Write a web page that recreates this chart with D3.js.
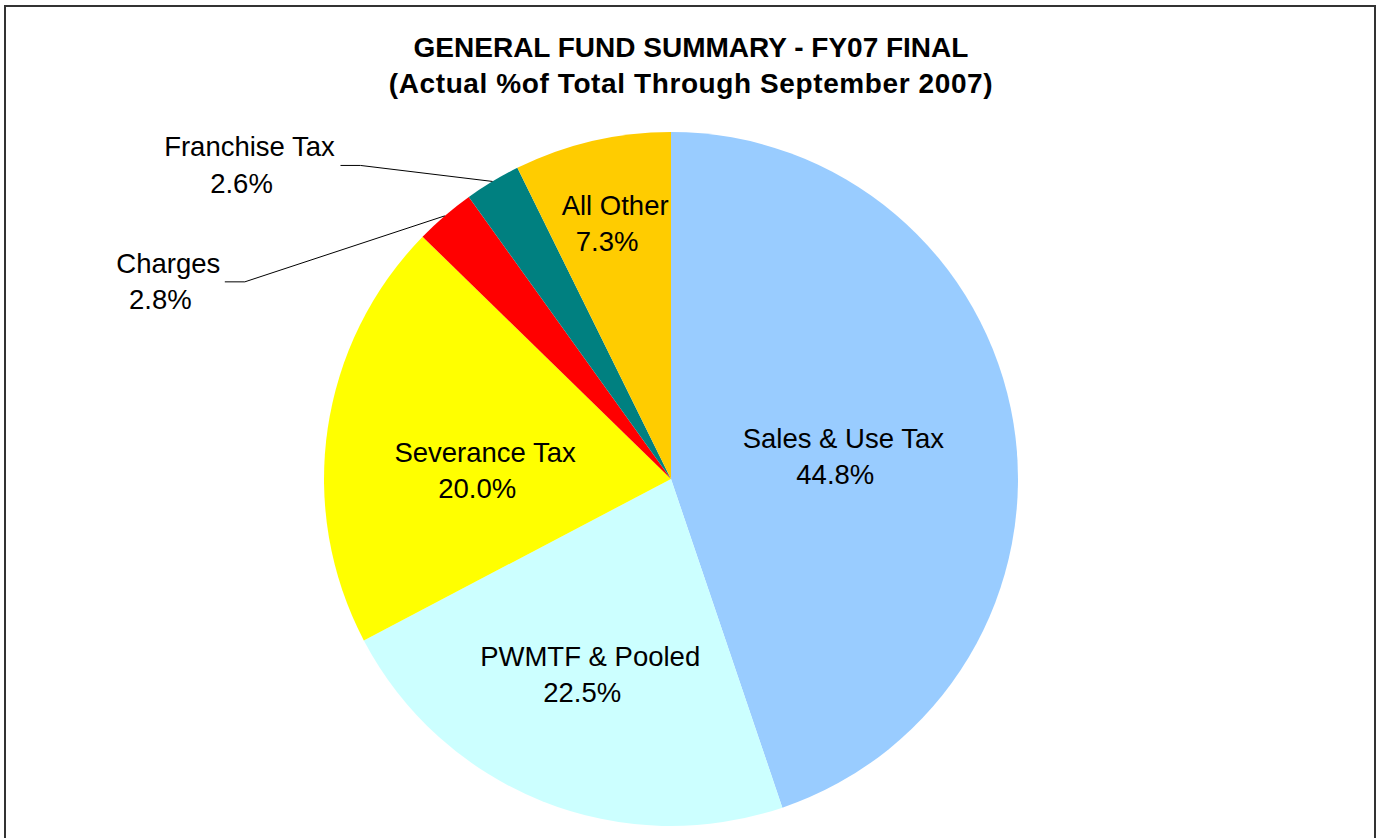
<!DOCTYPE html>
<html>
<head>
<meta charset="utf-8">
<script src="https://cdn.jsdelivr.net/npm/d3@7"></script>
<style>
  html, body { margin: 0; padding: 0; background: #fff; }
  svg { display: block; }
  text { font-family: "Liberation Sans", Arial, sans-serif; fill: #000; }
</style>
</head>
<body>
<svg id="chart" width="1380" height="838"></svg>
<script>
// General fund revenue shares, FY07 final (percent of total)
const categories = ["Sales & Use Tax", "PWMTF & Pooled", "Severance Tax", "Charges", "Franchise Tax", "All Other"];
const shares = [44.8, 22.5, 20.0, 2.8, 2.6, 7.3];
const sliceColors = ["#99CCFF", "#CCFFFF", "#FFFF00", "#FF0000", "#008080", "#FFCC00"];
const titleLines = ["GENERAL FUND SUMMARY - FY07 FINAL", "(Actual %of Total Through September 2007)"];

// Layout
const W = 1380, H = 838;
const cx = 671, cy = 479, R = 347;
const fontSize = 27.5, lineGap = 36.5;

// Label placement: inside labels sit near a point on the mid-angle ray,
// outside labels hang off a leader line drawn from the slice edge.
const labelLayout = [
  { inside: true,  k: 0.55, dx: -16, dy: 18 },
  { inside: true,  k: 0.55, dx: -10, dy: 28 },
  { inside: true,  k: 0.55, dx: 3,   dy: 28.5 },
  { inside: false, elbow: [-200, 66], text: [-76.5, -9] },
  { inside: false, elbow: [-132, -16], text: [-111, -9] },
  { inside: true,  k: 0.55, dx: -12.5, dy: -60 }
];

const data = categories.map((c, i) => ({ name: c, value: shares[i], color: sliceColors[i], layout: labelLayout[i] }));

const svg = d3.select("#chart");

// Chart frame
svg.append("rect")
  .attr("x", 5).attr("y", 6)
  .attr("width", 1370).attr("height", 900)
  .attr("fill", "#fff")
  .attr("stroke", "#333").attr("stroke-width", 2);

// Title
svg.append("g").selectAll("text")
  .data(titleLines)
  .join("text")
  .attr("x", 691)
  .attr("y", (d, i) => 57 + i * 35.5)
  .attr("text-anchor", "middle")
  .attr("font-weight", "bold")
  .attr("font-size", 28)
  .attr("letter-spacing", (d, i) => i === 1 ? 0.6 : 0)
  .text(d => d);

const pie = d3.pie().value(d => d.value).sort(null);
const arcs = pie(data);
const arc = d3.arc().innerRadius(0).outerRadius(R);

const g = svg.append("g").attr("transform", `translate(${cx},${cy})`);

g.selectAll("path.slice")
  .data(arcs)
  .join("path")
  .attr("class", "slice")
  .attr("d", arc)
  .attr("fill", d => d.data.color);

const fmt = d3.format(".1f");

function polar(angle, r) {
  return [Math.sin(angle) * r, -Math.cos(angle) * r];
}

arcs.forEach(a => {
  const L = a.data.layout;
  const mid = (a.startAngle + a.endAngle) / 2;
  let x1, y1;
  if (L.inside) {
    const [px, py] = polar(mid, R * L.k);
    x1 = px + L.dx;
    // block center (midway between baselines) -> first baseline
    y1 = py + L.dy - lineGap / 2;
  } else {
    const [ex, ey] = polar(mid, R);
    const elbow = [ex + L.elbow[0], ey + L.elbow[1]];
    g.append("polyline")
      .attr("points", [[elbow[0] - 20, elbow[1]], elbow, [ex, ey]].map(p => p.join(",")).join(" "))
      .attr("fill", "none")
      .attr("stroke", "#000")
      .attr("stroke-width", 1);
    x1 = elbow[0] + L.text[0];
    y1 = elbow[1] + L.text[1];
  }
  const t = g.append("text")
    .attr("text-anchor", "middle")
    .attr("font-size", fontSize);
  t.append("tspan").attr("x", x1).attr("y", y1).text(a.data.name);
  t.append("tspan").attr("x", x1 - 8).attr("y", y1 + lineGap).text(fmt(a.data.value) + "%");
});
</script>
</body>
</html>
